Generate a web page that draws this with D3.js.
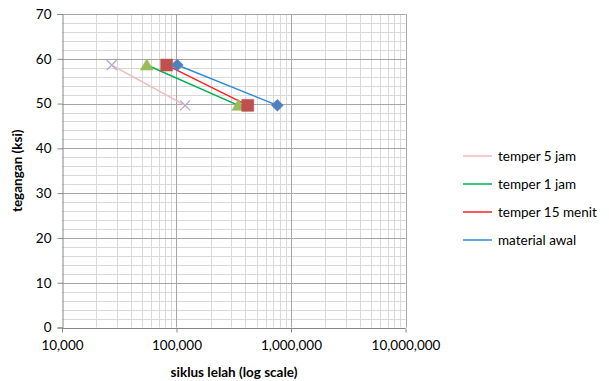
<!DOCTYPE html>
<html>
<head>
<meta charset="utf-8">
<script src="https://cdn.jsdelivr.net/npm/d3@7"></script>
<style>
  body { margin: 0; background: #fff; }
  svg { font-family: Lato, "Open Sans", sans-serif; }
</style>
</head>
<body>
<svg width="609" height="381"></svg>
<script>
// series data: [cycles, stress ksi]
const seriesNames = ["temper 5 jam", "temper 1 jam", "temper 15 menit", "material awal"];
const temper5jam = [[27200, 58.6], [119000, 49.6]];
const temper1jam = [[55000, 58.6], [347000, 49.6]];
const temper15menit = [[82000, 58.6], [419000, 49.6]];
const materialAwal = [[101600, 58.6], [760000, 49.6]];
const xTicks = [1e4, 1e5, 1e6, 1e7];
const yTicks = [0, 10, 20, 30, 40, 50, 60, 70];

const lineColors = ["#f4b9b9", "#00b050", "#ff2020", "#2f8ad6"];
const markerColors = ["#b4a7d6", "#9bbb59", "#c0504d", "#4f81bd"];
const markerTypes = ["x", "triangle", "square", "diamond"];

(function () {
var svg = d3.select("svg");
var pLeft = 62, pRight = 405.5, pTop = 14, pBottom = 327.5;

var x = d3.scaleLog().domain([1e4, 1e7]).range([pLeft, pRight]);
var y = d3.scaleLinear().domain([0, 70]).range([pBottom, pTop]);

// minor gridlines
var minorX = [];
[1e4, 1e5, 1e6].forEach(function(d) {
  for (var k = 2; k <= 9; k++) minorX.push(d * k);
});
var minorY = d3.range(0, 71, 2).filter(function(v) { return v % 10 !== 0; });

var grid = svg.append("g");
grid.selectAll(".mx").data(minorX).enter().append("line")
  .attr("x1", function(d) { return Math.round(x(d)) + 0.5; })
  .attr("x2", function(d) { return Math.round(x(d)) + 0.5; })
  .attr("y1", pTop).attr("y2", pBottom)
  .attr("stroke", "#d9d9d9");
grid.selectAll(".my").data(minorY).enter().append("line")
  .attr("y1", function(d) { return Math.round(y(d)) + 0.5; })
  .attr("y2", function(d) { return Math.round(y(d)) + 0.5; })
  .attr("x1", pLeft).attr("x2", pRight)
  .attr("stroke", "#d9d9d9");
grid.selectAll(".Mx").data(xTicks.slice(1)).enter().append("line")
  .attr("x1", function(d) { return Math.round(x(d)) + 0.5; })
  .attr("x2", function(d) { return Math.round(x(d)) + 0.5; })
  .attr("y1", pTop).attr("y2", pBottom)
  .attr("stroke", "#a6a6a6");
grid.selectAll(".My").data(yTicks.slice(1)).enter().append("line")
  .attr("y1", function(d) { return Math.round(y(d)) + 0.5; })
  .attr("y2", function(d) { return Math.round(y(d)) + 0.5; })
  .attr("x1", pLeft).attr("x2", pRight)
  .attr("stroke", "#a6a6a6");

// axes
var fmt = d3.format(",");
var xAxis = svg.append("g")
  .attr("transform", "translate(0," + (Math.round(pBottom) + 0.5) + ")")
  .call(d3.axisBottom(x).tickValues(xTicks).tickFormat(fmt).tickSize(4).tickPadding(8));
var yAxis = svg.append("g")
  .attr("transform", "translate(" + (Math.round(pLeft) + 0.5) + ",0)")
  .call(d3.axisLeft(y).tickValues(yTicks).tickSize(5).tickPadding(6));
[xAxis, yAxis].forEach(function(a) {
  a.select(".domain").attr("stroke", "#868686");
  a.selectAll(".tick line").attr("stroke", "#868686");
  a.selectAll("text").attr("fill", "#000").style("font-size", "13.5px")
    .style("font-family", "Lato, 'Open Sans', sans-serif");
});
xAxis.select(".domain").attr("d", "M" + pLeft + ",0H" + pRight);

svg.append("text")
  .attr("x", 234).attr("y", 377)
  .attr("text-anchor", "middle")
  .style("font-size", "13.5px").style("font-weight", "bold")
  .text("siklus lelah (log scale)");
svg.append("text")
  .attr("transform", "translate(22," + ((pTop + pBottom) / 2) + ") rotate(-90)")
  .attr("text-anchor", "middle")
  .style("font-size", "13.5px").style("font-weight", "bold")
  .text("tegangan (ksi)");

// lines + markers
var allSeries = [temper5jam, temper1jam, temper15menit, materialAwal];
var line = d3.line()
  .x(function(d) { return x(d[0]); })
  .y(function(d) { return y(d[1]); });

function markerPath(type) {
  if (type === "x") return "M-5,-5L5,5M-5,5L5,-5";
  if (type === "triangle") return "M0,-6L6.5,5L-6.5,5Z";
  if (type === "square") return "M-6,-6H6V6H-6Z";
  return "M0,-6L6,0L0,6L-6,0Z";
}

allSeries.forEach(function(data, i) {
  svg.append("path").datum(data)
    .attr("d", line)
    .attr("fill", "none")
    .attr("stroke", lineColors[i])
    .attr("stroke-width", 1.5);
});
allSeries.forEach(function(data, i) {
  svg.append("g").selectAll("path").data(data).enter().append("path")
    .attr("transform", function(d) { return "translate(" + x(d[0]) + "," + y(d[1]) + ")"; })
    .attr("d", markerPath(markerTypes[i]))
    .attr("fill", markerTypes[i] === "x" ? "none" : markerColors[i])
    .attr("stroke", markerColors[i])
    .attr("stroke-width", markerTypes[i] === "x" ? 1.3 : 0.5);
});

// legend
var legend = svg.append("g").selectAll("g").data(seriesNames).enter().append("g")
  .attr("transform", function(d, i) { return "translate(463," + (156 + i * 28) + ")"; });
legend.append("line")
  .attr("x1", 0).attr("x2", 29)
  .attr("stroke", function(d, i) { return lineColors[i]; })
  .attr("stroke-width", 1.5);
legend.append("text")
  .attr("x", 35).attr("dy", "0.35em")
  .style("font-size", "13.5px")
  .text(function(d) { return d; });
})();
</script>
</body>
</html>
